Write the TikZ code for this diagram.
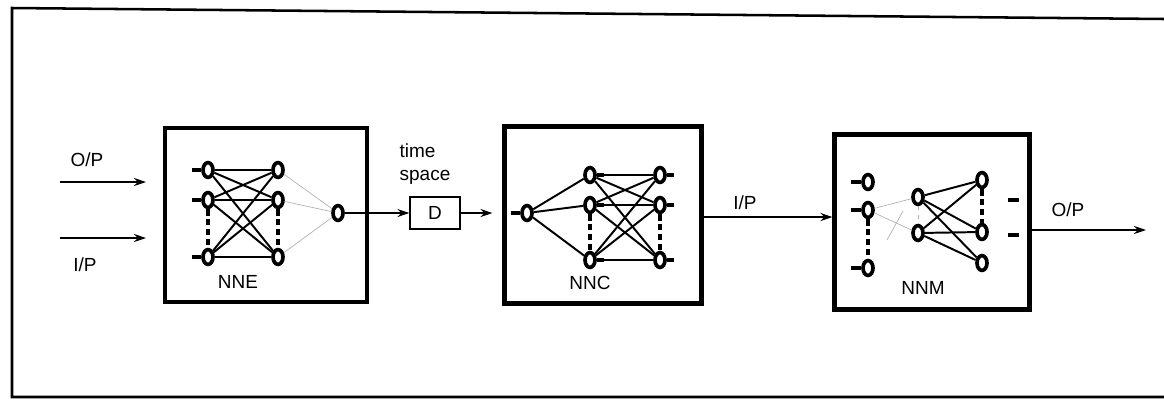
\documentclass[tikz,border=0pt]{standalone}
\usepackage{fontspec}
\setmainfont{Liberation Sans}
\usepackage{tikz}
\usetikzlibrary{positioning, arrows.meta, shapes.geometric}

\begin{document}
\begin{tikzpicture}[x=0.025cm, y=-0.025cm, font=\fontsize{13.5}{16.5}\selectfont,
  unit/.style={ellipse, draw, line width=2.6pt, minimum width=0.25cm, minimum height=0.37cm, inner sep=0pt},
  netbox/.style={draw, line width=3pt, inner sep=0pt},
  link/.style={line width=1.4pt},
  stub/.style={line width=2.2pt},
  faint/.style={gray!60, line width=0.5pt},
  skip/.style={line width=3pt, dash pattern=on 4.5pt off 2.5pt},
  flow/.style={-{Stealth[length=3mm, width=2mm]}, line width=0.8pt}]
  \useasboundingbox (0,0) rectangle (1164,403);
  \draw[line width=1.8pt] (1164,19) -- (12,8) -- (12,397) -- (1164,397);

  % the three networks
  \node[netbox, minimum width=5.05cm, minimum height=4.35cm] (nne) at (266,215) {};
  \node[netbox, minimum width=4.92cm, minimum height=4.42cm] (nnc) at (603,215) {};
  \node[netbox, minimum width=4.87cm, minimum height=4.37cm] (nnm) at (932,222) {};
  \node (nnetxt) at (238,282) {NNE};
  \node (nnctxt) at (590,283) {NNC};
  \node (nnmtxt) at (923,288) {NNM};

  % NNE
  \foreach \n/\y in {1/170, 2/200, 3/257} {
    \node[unit] (ei\n) at (208,\y) {};
    \node[unit] (eh\n) at (278,\y) {};
    \draw[stub] (ei\n.west) -- ++(-9,0);
  }
  \node[unit] (eo) at (338,213) {};
  \foreach \a in {1,2,3} {
    \foreach \b in {1,2,3} \draw[link] (ei\a) -- (eh\b);
    \draw[faint] (eh\a) -- (eo);
  }
  \draw[skip] (ei2) -- (ei3);
  \draw[skip] (eh2) -- (eh3);

  % NNC
  \node[unit] (c0) at (527,213) {};
  \draw[stub] (c0.west) -- ++(-9,0);
  \foreach \n/\y in {1/175, 2/205, 3/260} {
    \node[unit] (ck\n) at (590,\y) {};
    \node[unit] (cm\n) at (660,\y) {};
    \draw[stub] (ck\n.east) -- ++(7,0);
    \draw[stub] (cm\n.east) -- ++(7,0);
    \draw[link] (c0) -- (ck\n);
  }
  \foreach \a in {1,2,3}
    \foreach \b in {1,2,3} \draw[link] (ck\a) -- (cm\b);
  \draw[skip] (ck2) -- (ck3);
  \draw[skip] (cm2) -- (cm3);

  % NNM
  \foreach \n/\y in {1/182, 2/210, 3/268} {
    \node[unit] (mp\n) at (868,\y) {};
    \draw[stub] (mp\n.west) -- ++(-10,0);
  }
  \node[unit] (mq1) at (918,197) {};
  \node[unit] (mq2) at (918,233) {};
  \foreach \n/\y in {1/180, 2/232, 3/263}
    \node[unit] (mr\n) at (982,\y) {};
  \foreach \a in {1,2}
    \foreach \b in {1,2,3} \draw[link] (mq\a) -- (mr\b);
  \draw[faint] (mp2) -- (mq1);
  \draw[faint] (mp2) -- (mq2);
  \draw[faint] (887,240) -- (903,211);
  \draw[faint, dashed] (mq1) -- (mq2);
  \draw[skip] (mp2) -- (mp3);
  \draw[skip] (mr1) -- (mr2);
  \draw[line width=2.8pt] (1008,200) -- (1019,200);
  \draw[line width=2.8pt] (1008,235) -- (1019,235);

  % signal flow
  \coordinate (opa) at (60,182);
  \coordinate (opb) at (146,182);
  \coordinate (ipa) at (60,238);
  \coordinate (ipb) at (146,238);
  \draw[flow] (opa) -- (opb);
  \draw[flow] (ipa) -- (ipb);
  \node (optxt) at (87,160) {O/P};
  \node (iptxt) at (85,265) {I/P};

  \node[draw, line width=0.8pt, minimum width=1.25cm, minimum height=0.8cm] (dly) at (435,213) {D};
  \node[align=left] (tspace) at (425,164) {time\\space};
  \draw[flow] (eo) -- (dly);
  \draw[flow, shorten >=0.25cm] (dly) -- (dly -| nnc.west);

  \draw[flow] (nnc.east |- 0,217) -- (nnm.west |- 0,217);
  \node (ipmid) at (745,203) {I/P};

  \coordinate (out) at (1146,230);
  \draw[flow] (nnm.east |- out) -- (out);
  \node (opend) at (1068,210) {O/P};
\end{tikzpicture}
\end{document}
